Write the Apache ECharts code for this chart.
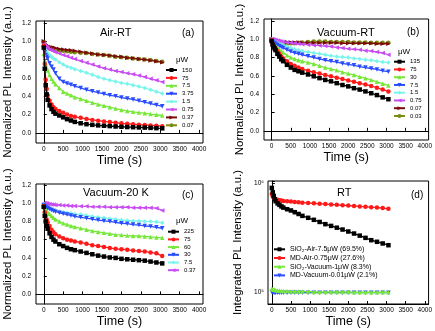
<!DOCTYPE html>
<html>
<head>
<meta charset="utf-8">
<script src="https://cdn.jsdelivr.net/npm/echarts@6/dist/echarts.min.js"></script>
<style>
  html, body { margin: 0; padding: 0; background: #fff; }
  #main { width: 435px; height: 331px; }
</style>
</head>
<body>
<div id="main"></div>
<script>
// time axis (s), shared by all curves
var time = [0, 25, 50, 75, 100, 150, 200, 250, 300, 400, 500, 600, 700, 800, 950, 1100, 1250, 1400, 1550, 1700, 1850, 2000, 2150, 2300, 2450, 2600, 2750, 2900, 3050];
var xTicks = [0, 500, 1000, 1500, 2000, 2500, 3000, 3500, 4000];
var yTicks = [0, 0.2, 0.4, 0.6, 0.8, 1.0, 1.2];

// (a) Air-RT
var airPower = ['150', '75', '7.5', '3.75', '1.5', '0.75', '0.37', '0.07'];
var air150 = [0.93, 0.7, 0.52, 0.42, 0.36, 0.3, 0.26, 0.23, 0.21, 0.19, 0.17, 0.15, 0.135, 0.12, 0.105, 0.095, 0.088, 0.082, 0.078, 0.074, 0.07, 0.067, 0.064, 0.062, 0.06, 0.058, 0.055, 0.052, 0.05];
var air75 = [0.95, 0.75, 0.58, 0.48, 0.41, 0.35, 0.31, 0.28, 0.26, 0.24, 0.22, 0.2, 0.185, 0.175, 0.165, 0.152, 0.142, 0.133, 0.125, 0.118, 0.112, 0.105, 0.1, 0.095, 0.09, 0.086, 0.082, 0.078, 0.073];
var air7p5 = [0.86, 0.79, 0.75, 0.71, 0.68, 0.63, 0.59, 0.56, 0.53, 0.49, 0.45, 0.43, 0.41, 0.39, 0.37, 0.35, 0.33, 0.31, 0.295, 0.28, 0.265, 0.25, 0.24, 0.23, 0.222, 0.215, 0.205, 0.198, 0.19];
var air3p75 = [0.92, 0.88, 0.85, 0.83, 0.81, 0.76, 0.72, 0.69, 0.65, 0.59, 0.555, 0.54, 0.525, 0.51, 0.49, 0.47, 0.455, 0.44, 0.425, 0.41, 0.4, 0.385, 0.375, 0.365, 0.35, 0.335, 0.32, 0.305, 0.29];
var air1p5 = [0.93, 0.91, 0.9, 0.88, 0.87, 0.85, 0.83, 0.81, 0.8, 0.77, 0.745, 0.725, 0.71, 0.695, 0.675, 0.655, 0.635, 0.61, 0.59, 0.575, 0.56, 0.545, 0.535, 0.52, 0.505, 0.49, 0.47, 0.45, 0.43];
var air0p75 = [0.97, 0.95, 0.94, 0.93, 0.925, 0.91, 0.9, 0.89, 0.88, 0.865, 0.85, 0.835, 0.82, 0.805, 0.785, 0.765, 0.745, 0.725, 0.705, 0.69, 0.675, 0.665, 0.65, 0.64, 0.625, 0.61, 0.59, 0.575, 0.555];
var air0p37 = [1.0, 0.98, 0.965, 0.955, 0.95, 0.94, 0.935, 0.93, 0.925, 0.915, 0.91, 0.905, 0.9, 0.895, 0.885, 0.875, 0.865, 0.855, 0.85, 0.845, 0.835, 0.83, 0.82, 0.815, 0.805, 0.8, 0.79, 0.78, 0.77];
var air0p07 = [0.99, 0.96, 0.945, 0.935, 0.93, 0.92, 0.915, 0.91, 0.905, 0.9, 0.895, 0.89, 0.885, 0.88, 0.875, 0.87, 0.86, 0.855, 0.85, 0.84, 0.83, 0.825, 0.82, 0.81, 0.805, 0.8, 0.795, 0.785, 0.775];

// (b) Vacuum-RT
var vacPower = ['135', '75', '30', '7.5', '1.5', '0.75', '0.07', '0.03'];
var vac135 = [0.98, 0.94, 0.92, 0.9, 0.88, 0.84, 0.81, 0.78, 0.76, 0.72, 0.69, 0.665, 0.65, 0.635, 0.615, 0.595, 0.575, 0.555, 0.54, 0.52, 0.5, 0.485, 0.465, 0.45, 0.43, 0.41, 0.39, 0.365, 0.345];
var vac75 = [0.99, 0.95, 0.93, 0.91, 0.9, 0.87, 0.84, 0.81, 0.79, 0.76, 0.73, 0.71, 0.69, 0.675, 0.655, 0.64, 0.625, 0.61, 0.595, 0.58, 0.565, 0.55, 0.535, 0.52, 0.505, 0.49, 0.47, 0.45, 0.43];
var vac30 = [0.99, 0.97, 0.955, 0.94, 0.93, 0.91, 0.89, 0.87, 0.855, 0.825, 0.8, 0.785, 0.77, 0.76, 0.745, 0.73, 0.71, 0.69, 0.675, 0.66, 0.64, 0.625, 0.61, 0.59, 0.575, 0.555, 0.535, 0.515, 0.495];
var vac7p5 = [0.99, 0.975, 0.965, 0.955, 0.95, 0.94, 0.925, 0.915, 0.905, 0.885, 0.865, 0.85, 0.84, 0.83, 0.815, 0.8, 0.785, 0.77, 0.76, 0.75, 0.735, 0.725, 0.715, 0.7, 0.69, 0.68, 0.67, 0.655, 0.645];
var vac1p5 = [1.0, 0.99, 0.98, 0.975, 0.97, 0.96, 0.95, 0.945, 0.935, 0.92, 0.905, 0.89, 0.88, 0.87, 0.86, 0.85, 0.84, 0.83, 0.82, 0.81, 0.805, 0.8, 0.79, 0.785, 0.775, 0.77, 0.76, 0.75, 0.745];
var vac0p75 = [1.0, 1.0, 0.995, 0.99, 0.99, 0.985, 0.98, 0.975, 0.97, 0.965, 0.96, 0.955, 0.95, 0.945, 0.94, 0.935, 0.93, 0.925, 0.92, 0.91, 0.905, 0.895, 0.89, 0.885, 0.875, 0.87, 0.86, 0.85, 0.83];
var vac0p07 = [1.0, 0.995, 0.99, 0.985, 0.985, 0.98, 0.975, 0.975, 0.97, 0.97, 0.965, 0.965, 0.965, 0.96, 0.96, 0.96, 0.96, 0.96, 0.96, 0.96, 0.955, 0.955, 0.955, 0.955, 0.955, 0.955, 0.95, 0.95, 0.95];
var vac0p03 = [0.98, 0.965, 0.96, 0.955, 0.955, 0.95, 0.95, 0.95, 0.95, 0.95, 0.955, 0.955, 0.96, 0.965, 0.97, 0.975, 0.975, 0.975, 0.97, 0.97, 0.97, 0.97, 0.965, 0.965, 0.965, 0.96, 0.96, 0.96, 0.96];

// (c) Vacuum-20 K
var lowPower = ['225', '75', '60', '30', '7.5', '0.37'];
var low225 = [0.96, 0.86, 0.8, 0.75, 0.72, 0.67, 0.63, 0.6, 0.58, 0.55, 0.53, 0.51, 0.495, 0.485, 0.47, 0.455, 0.44, 0.425, 0.415, 0.405, 0.4, 0.39, 0.385, 0.38, 0.375, 0.37, 0.36, 0.35, 0.34];
var low75 = [0.97, 0.9, 0.86, 0.82, 0.79, 0.75, 0.71, 0.68, 0.66, 0.635, 0.615, 0.6, 0.59, 0.58, 0.57, 0.555, 0.54, 0.53, 0.52, 0.51, 0.5, 0.495, 0.49, 0.48, 0.475, 0.47, 0.46, 0.45, 0.42];
var low60 = [0.98, 0.95, 0.93, 0.915, 0.9, 0.88, 0.86, 0.84, 0.82, 0.8, 0.78, 0.765, 0.75, 0.74, 0.725, 0.71, 0.695, 0.685, 0.675, 0.665, 0.655, 0.65, 0.645, 0.64, 0.64, 0.635, 0.63, 0.625, 0.62];
var low30 = [0.98, 0.965, 0.955, 0.95, 0.945, 0.935, 0.925, 0.915, 0.905, 0.895, 0.885, 0.875, 0.865, 0.855, 0.845, 0.835, 0.825, 0.815, 0.805, 0.8, 0.79, 0.78, 0.775, 0.765, 0.76, 0.75, 0.745, 0.735, 0.725];
var low7p5 = [0.99, 0.975, 0.965, 0.96, 0.955, 0.945, 0.935, 0.925, 0.92, 0.91, 0.9, 0.895, 0.89, 0.88, 0.875, 0.865, 0.855, 0.845, 0.84, 0.83, 0.825, 0.815, 0.81, 0.805, 0.805, 0.8, 0.8, 0.795, 0.785];
var low0p37 = [1.0, 1.0, 0.995, 0.995, 0.99, 0.99, 0.985, 0.985, 0.98, 0.98, 0.975, 0.975, 0.97, 0.97, 0.965, 0.965, 0.96, 0.96, 0.96, 0.955, 0.955, 0.955, 0.955, 0.95, 0.95, 0.95, 0.95, 0.945, 0.92];

// (d) RT, integrated intensity (log axis)
var rtNames = ['SiO₂-Air-7.5μW (69.5%)', 'MD-Air-0.75μW (27.6%)', 'SiO₂-Vacuum-1μW (8.3%)', 'MD-Vacuum-0.01μW (2.1%)'];
var rtSiO2Air = [900000, 820000, 760000, 710000, 680000, 650000, 630000, 610000, 595000, 575000, 560000, 540000, 520000, 500000, 480000, 460000, 440000, 420000, 405000, 390000, 375000, 360000, 345000, 330000, 315000, 300000, 290000, 280000, 270000];
var rtMDAir = [790000, 750000, 730000, 720000, 710000, 700000, 695000, 690000, 685000, 680000, 675000, 670000, 665000, 660000, 655000, 650000, 645000, 640000, 635000, 630000, 625000, 620000, 615000, 610000, 605000, 600000, 595000, 590000, 580000];
var rtSiO2Vac = [108000, 107000, 106000, 106000, 105000, 104000, 104000, 103000, 103000, 103000, 102000, 102000, 102000, 102000, 102000, 101000, 101000, 101000, 101000, 101000, 101000, 101000, 100500, 100500, 100500, 100500, 100500, 100500, 100500];
var rtMDVac = [101000, 100000, 100000, 99500, 99500, 99500, 99500, 99500, 99500, 99500, 99500, 99500, 99500, 99500, 99500, 99500, 99500, 99500, 99500, 99500, 99500, 99500, 99500, 99500, 99500, 99500, 99500, 99500, 99500];

var colors = ['#000000', '#ff1a1a', '#77e83a', '#2a4cff', '#7af5ec', '#c84cf0', '#7d0a0a', '#7d8a12'];
var marks = [
  { symbol: 'rect', rotate: 0 },
  { symbol: 'circle', rotate: 0 },
  { symbol: 'triangle', rotate: 0 },
  { symbol: 'triangle', rotate: 180 },
  { symbol: 'diamond', rotate: 0 },
  { symbol: 'triangle', rotate: 90 },
  { symbol: 'triangle', rotate: -90 },
  { symbol: 'circle', rotate: 0 }
];

var font = '"Liberation Sans", Arial, sans-serif';

function makeSeries(tag, idx, names, values) {
  return names.map(function (n, i) {
    return {
      name: tag + '|' + n,
      type: 'line',
      xAxisIndex: idx,
      yAxisIndex: idx,
      data: time.map(function (t, k) { return [t, values[i][k]]; }),
      symbol: marks[i].symbol,
      symbolRotate: marks[i].rotate,
      symbolSize: 4.5,
      showAllSymbol: true,
      lineStyle: { width: 1.3, color: colors[i] },
      itemStyle: { color: colors[i] },
      z: 10 - i
    };
  });
}

function xAxisFor(idx, min, gap) {
  return {
    type: 'value', gridIndex: idx, min: min, max: 4100,
    name: 'Time (s)', nameLocation: 'middle', nameGap: gap,
    nameTextStyle: { fontSize: 12.5, color: '#000', fontFamily: font },
    axisLine: { lineStyle: { color: '#000', width: 1 } },
    axisTick: { inside: true, length: 3, customValues: xTicks, lineStyle: { color: '#000' } },
    axisLabel: { customValues: xTicks, fontSize: 6.5, color: '#000', margin: 3, fontFamily: font,
      formatter: function (v) { return String(v); } },
    splitLine: { show: false }
  };
}

function yAxisFor(idx, min, max, gap) {
  return {
    type: 'value', gridIndex: idx, min: min, max: max,
    name: 'Normalized PL Intensity (a.u.)', nameLocation: 'middle', nameGap: gap,
    nameTextStyle: { fontSize: 11.5, color: '#000', fontFamily: font },
    axisLine: { lineStyle: { color: '#000', width: 1 } },
    axisTick: { inside: true, length: 3, customValues: yTicks, lineStyle: { color: '#000' } },
    axisLabel: { customValues: yTicks, fontSize: 6.5, color: '#000', margin: 5, fontFamily: font,
      formatter: function (v) { return v.toFixed(1); } },
    splitLine: { show: false }
  };
}

function legendFor(tag, names, left, top, gap, size) {
  return {
    data: names.map(function (n) { return tag + '|' + n; }),
    formatter: function (name) { return name.split('|')[1]; },
    orient: 'vertical', left: left, top: top, padding: 0,
    itemWidth: 11, itemHeight: 5, itemGap: gap, selectedMode: false,
    textStyle: { fontSize: size, color: '#000', fontFamily: font }
  };
}

function label(text, left, top, size) {
  return { text: text, left: left, top: top, padding: 0,
    textStyle: { fontSize: size, fontWeight: 'normal', color: '#000', fontFamily: font } };
}

var chart = echarts.init(document.getElementById('main'));

var gridStyle = { show: true, borderColor: '#000', borderWidth: 1, backgroundColor: 'transparent' };

var yLog = {
  type: 'log', logBase: 10, gridIndex: 3, min: 78500, max: 1040000,
  name: 'Integrated PL Intensity (a.u.)', nameLocation: 'middle', nameGap: 24,
  nameTextStyle: { fontSize: 11.5, color: '#000', fontFamily: font },
  axisLine: { lineStyle: { color: '#000', width: 1 } },
  axisTick: { inside: true, length: 3, lineStyle: { color: '#000' } },
  axisLabel: { fontSize: 6.5, color: '#000', margin: 4, fontFamily: font,
    formatter: function (v) {
      var e = Math.log10(v);
      if (Math.abs(e - Math.round(e)) > 1e-6) return '';
      return '10' + (Math.round(e) === 6 ? '⁶' : '⁵');
    } },
  splitLine: { show: false }
};

chart.setOption({
  animation: false,
  grid: [
    Object.assign({ left: 36, top: 21, width: 167, height: 122 }, gridStyle),
    Object.assign({ left: 264, top: 19, width: 167, height: 121 }, gridStyle),
    Object.assign({ left: 36, top: 184, width: 167, height: 120 }, gridStyle),
    Object.assign({ left: 268, top: 181, width: 163, height: 123 }, gridStyle)
  ],
  xAxis: [xAxisFor(0, -200, 10), xAxisFor(1, -200, 10), xAxisFor(2, -200, 11), xAxisFor(3, -100, 11)],
  yAxis: [
    yAxisFor(0, -0.11, 1.22, 22),
    yAxisFor(1, -0.1, 1.22, 18),
    yAxisFor(2, -0.105, 1.21, 22),
    yLog
  ],
  title: [
    label('Air-RT', 100, 27.5, 11), label('(a)', 182, 28, 10), label('μW', 176, 56, 8),
    label('Vacuum-RT', 317, 27.5, 11), label('(b)', 407, 27, 10), label('μW', 398, 47.5, 8),
    label('Vacuum-20 K', 83, 187.5, 11), label('(c)', 182, 190.5, 10), label('μW', 176, 217, 8),
    label('RT', 337, 187.5, 11), label('(d)', 411, 190, 10)
  ],
  legend: [
    legendFor('a', airPower, 165, 67, 1.9, 6),
    legendFor('b', vacPower, 393, 58.7, 1.75, 6),
    legendFor('c', lowPower, 167, 228.7, 1.7, 6),
    legendFor('d', rtNames, 273, 245.8, 1.7, 7)
  ],
  series: [].concat(
    makeSeries('a', 0, airPower, [air150, air75, air7p5, air3p75, air1p5, air0p75, air0p37, air0p07]),
    makeSeries('b', 1, vacPower, [vac135, vac75, vac30, vac7p5, vac1p5, vac0p75, vac0p07, vac0p03]),
    makeSeries('c', 2, lowPower, [low225, low75, low60, low30, low7p5, low0p37]),
    makeSeries('d', 3, rtNames, [rtSiO2Air, rtMDAir, rtSiO2Vac, rtMDVac])
  )
});
</script>
</body>
</html>
